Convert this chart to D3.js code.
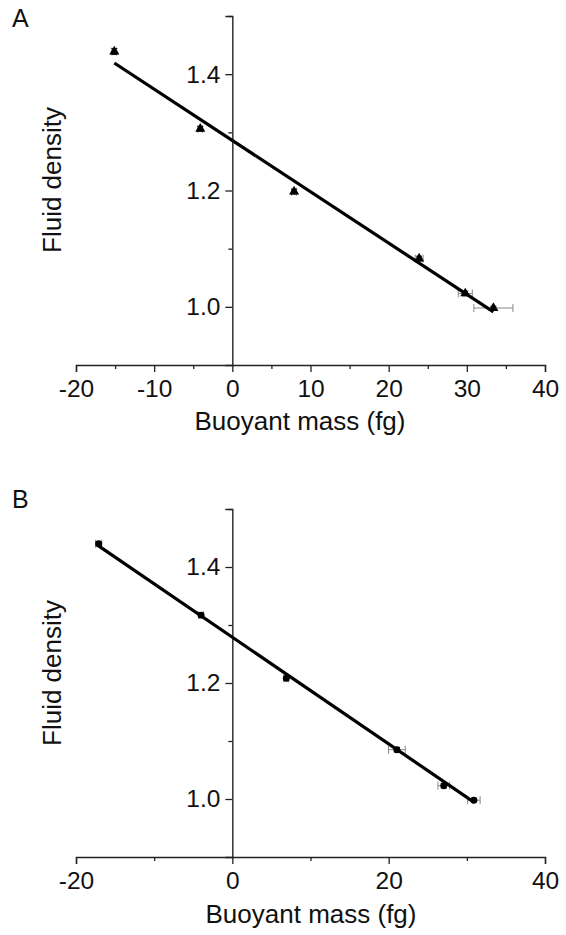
<!DOCTYPE html>
<html>
<head>
<meta charset="utf-8">
<script src="https://cdn.jsdelivr.net/npm/d3@7"></script>
<style>
  html, body { margin: 0; padding: 0; background: #fff; }
  svg text { font-family: "Liberation Sans", Arial, sans-serif; fill: #111; }
</style>
</head>
<body>
<svg id="chart" width="566" height="935"></svg>
<script>
// Panel A: buoyant mass (fg) vs fluid density, triangles
const massA    = [-15.1, -4.1, 7.9, 23.9, 29.8, 33.4];
const densityA = [1.439, 1.306, 1.198, 1.083, 1.023, 0.998];
const massErrA = [0.3, 0.3, 0.3, 0.5, 0.9, 2.5];
const densErrA = [0.005, 0.004, 0.004, 0.004, 0.004, 0.003];
const fitA = { slope: -0.00882, intercept: 1.286, from: -15.1, to: 33.4 };

// Panel B: buoyant mass (fg) vs fluid density, circles
const massB    = [-17.1, -4.0, 6.9, 21.05, 27.05, 30.9];
const densityB = [1.440, 1.317, 1.208, 1.085, 1.023, 0.998];
const massErrB = [0.4, 0.3, 0.3, 1.07, 0.75, 0.8];
const densErrB = [0.003, 0.003, 0.004, 0.004, 0.004, 0.003];
const fitB = { slope: -0.0092, intercept: 1.279, from: -17.3, to: 30.9 };

const xMajorA = [-20, -10, 0, 10, 20, 30, 40];
const xMinorA = [-15, -5, 5, 15, 25, 35];
const xMajorB = [-20, 0, 20, 40];
const xMinorB = [-10, 10, 30];
const yMajor = [1.0, 1.2, 1.4];
const yMinor = [1.1, 1.3, 1.5];

const svg = d3.select("#chart");
// plain hyphen for negative tick values
const intFmt = d => String(d);

function panel(cfg) {
  const x = d3.scaleLinear().domain([-20, 40]).range([76, 545]);
  const y = d3.scaleLinear().domain([0.9, 1.5]).range([cfg.bottom, cfg.top]);
  const g = svg.append("g");
  const axisColor = "#222";

  // x axis along the bottom
  const gx = g.append("g").attr("transform", `translate(0,${cfg.bottom})`);
  gx.call(d3.axisBottom(x).tickValues(cfg.xMajor).tickSize(7).tickPadding(6)
      .tickFormat(intFmt));
  gx.append("g").call(d3.axisBottom(x).tickValues(cfg.xMinor).tickSize(4).tickFormat(""))
    .select(".domain").remove();

  // y axis crossing at zero mass
  const gy = g.append("g").attr("transform", `translate(${x(0)},0)`);
  gy.call(d3.axisLeft(y).tickValues(yMajor).tickSize(7).tickPadding(5)
      .tickFormat(d3.format(".1f")));
  gy.append("g").call(d3.axisLeft(y).tickValues(yMinor).tickSize(4).tickFormat(""))
    .select(".domain").remove();

  g.selectAll(".domain").attr("stroke", axisColor).attr("stroke-width", 1.4);
  g.selectAll(".tick line").attr("stroke", axisColor).attr("stroke-width", 1.3);
  g.selectAll(".tick text").attr("font-size", 24.5).attr("fill", "#111")
    .attr("font-family", '"Liberation Sans", Arial, sans-serif');
  gx.selectAll(".tick text").attr("dy", "0.76em");

  const pts = cfg.mass.map((m, i) => ({ m, d: cfg.dens[i], em: cfg.massErr[i], ed: cfg.densErr[i] }));

  // error bars (light grey)
  const eb = g.append("g").attr("stroke", "#888").attr("stroke-width", 1).attr("fill", "none");
  pts.forEach(p => {
    eb.append("line").attr("x1", x(p.m - p.em)).attr("x2", x(p.m + p.em))
      .attr("y1", y(p.d)).attr("y2", y(p.d));
    [p.m - p.em, p.m + p.em].forEach(v => eb.append("line")
      .attr("x1", x(v)).attr("x2", x(v)).attr("y1", y(p.d) - 4).attr("y2", y(p.d) + 4));
    eb.append("line").attr("x1", x(p.m)).attr("x2", x(p.m))
      .attr("y1", y(p.d - p.ed)).attr("y2", y(p.d + p.ed)).attr("stroke", "#111");
    [p.d - p.ed, p.d + p.ed].forEach(v => eb.append("line").attr("stroke", "#111")
      .attr("x1", x(p.m) - 3).attr("x2", x(p.m) + 3).attr("y1", y(v)).attr("y2", y(v)));
  });

  // linear fit
  g.append("line")
    .attr("x1", x(cfg.fit.from)).attr("y1", y(cfg.fit.intercept + cfg.fit.slope * cfg.fit.from))
    .attr("x2", x(cfg.fit.to)).attr("y2", y(cfg.fit.intercept + cfg.fit.slope * cfg.fit.to))
    .attr("stroke", "#000").attr("stroke-width", 3.2);

  // markers
  const sym = d3.symbol().type(cfg.symbol).size(cfg.symbol === d3.symbolTriangle ? 44 : 38);
  g.append("g").selectAll("path").data(pts).join("path")
    .attr("d", sym)
    .attr("transform", p => `translate(${x(p.m)},${y(p.d)})`)
    .attr("fill", "#000");

  // titles
  g.append("text").attr("x", cfg.xLabelX).attr("y", cfg.xLabelY)
    .attr("text-anchor", "middle").attr("font-size", 26).text("Buoyant mass (fg)");
  g.append("text").attr("transform", `translate(61,${cfg.yLabelY}) rotate(-90)`)
    .attr("text-anchor", "middle").attr("font-size", 26).text("Fluid density");
  g.append("text").attr("x", 12).attr("y", cfg.tagY)
    .attr("font-size", 25).text(cfg.tag);
}

panel({ tag: "A", tagY: 27, top: 16, bottom: 365,
  mass: massA, dens: densityA, massErr: massErrA, densErr: densErrA, fit: fitA,
  xMajor: xMajorA, xMinor: xMinorA, symbol: d3.symbolTriangle,
  xLabelX: 300, xLabelY: 430, yLabelY: 180 });

panel({ tag: "B", tagY: 508, top: 509, bottom: 857,
  mass: massB, dens: densityB, massErr: massErrB, densErr: densErrB, fit: fitB,
  xMajor: xMajorB, xMinor: xMinorB, symbol: d3.symbolCircle,
  xLabelX: 311, xLabelY: 923, yLabelY: 673 });
</script>
</body>
</html>
